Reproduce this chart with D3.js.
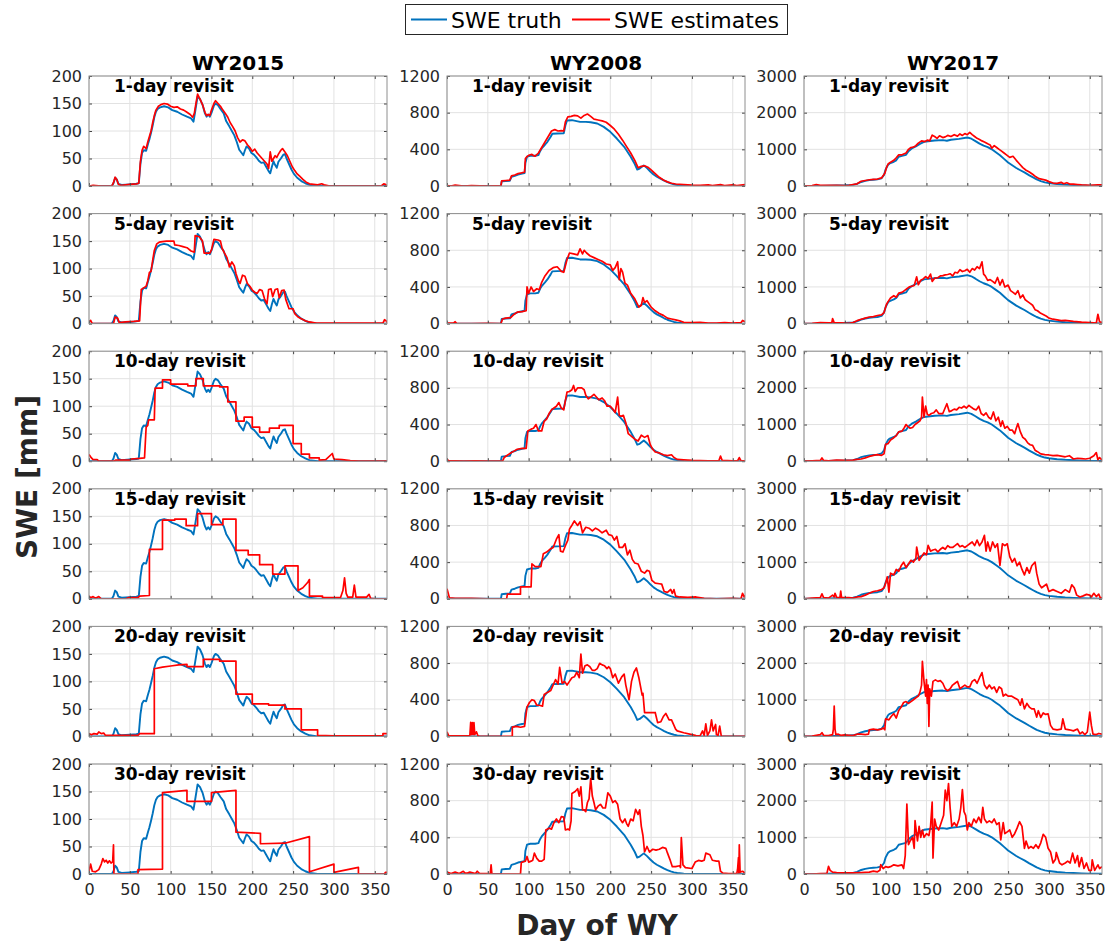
<!DOCTYPE html>
<html>
<head>
<meta charset="utf-8">
<script src="https://cdn.jsdelivr.net/npm/d3@7"></script>
<style>
  html, body { margin: 0; padding: 0; background: #fff; }
  svg { display: block; font-family: "DejaVu Sans", sans-serif; }
</style>
</head>
<body>
<svg id="chart" width="1109" height="944"></svg>
<script>
// ---- Data: SWE [mm] by day of water year, as [day, value] pairs ----
const waterYears = ["WY2015", "WY2008", "WY2017"];
const revisitLabels = ["1-day revisit", "5-day revisit", "10-day revisit", "15-day revisit", "20-day revisit", "30-day revisit"];
const dayTicks = [0, 50, 100, 150, 200, 250, 300, 350];
const yTicks2015 = [0, 50, 100, 150, 200];
const yTicks2008 = [0, 400, 800, 1200];
const yTicks2017 = [0, 1000, 2000, 3000];

const truth2015 = [[0,0],[28,0],[30,5],[32,15],[34,12],[36,4],[40,2],[50,3],[58,4],[61,5],[63,40],[65,60],[67,65],[70,64],[72,75],[74,85],[76,97],[78,110],[80,125],[82,135],[84,140],[87,143],[92,145],[97,143],[102,138],[108,135],[114,130],[120,126],[125,123],[128,117],[130,135],[133,163],[136,158],[139,148],[142,132],[144,126],[146,130],[148,126],[150,133],[153,146],[155,150],[158,147],[161,140],[165,132],[168,118],[172,108],[175,100],[178,92],[181,80],[184,66],[187,60],[189,56],[191,65],[193,72],[196,68],[199,60],[202,57],[205,52],[208,46],[211,42],[214,43],[217,35],[220,27],[222,23],[224,35],[226,45],[228,38],[230,33],[232,44],[235,50],[238,57],[240,58],[242,50],[245,40],[248,30],[251,22],[255,15],[260,9],[265,5],[270,2],[280,0],[365,0]];

const est2015_1 = [[0,0],[5,1],[15,0],[28,0],[30,6],[32,16],[34,12],[36,3],[40,1],[50,3],[58,4],[61,5],[63,45],[65,65],[67,72],[70,68],[72,80],[74,90],[76,100],[78,115],[80,128],[82,138],[85,145],[88,148],[92,150],[96,149],[100,145],[104,143],[108,144],[112,140],[116,138],[120,134],[124,130],[127,125],[129,132],[131,150],[133,167],[136,158],[139,148],[142,134],[144,128],[146,130],[148,128],[150,138],[153,150],[155,155],[158,150],[161,145],[164,138],[167,132],[170,125],[173,115],[176,108],[179,100],[182,88],[185,80],[188,84],[191,82],[194,75],[197,70],[200,63],[203,67],[206,60],[209,55],[212,50],[215,45],[218,40],[220,32],[222,62],[224,45],[226,50],[228,55],[230,52],[232,58],[235,65],[237,68],[240,62],[243,55],[246,45],[249,35],[252,28],[255,22],[258,18],[262,12],[266,7],[270,4],[275,3],[280,2],[285,4],[288,2],[295,0],[358,0],[361,4],[363,3],[365,0]];
const est2015_5 = [[0,3],[2,6],[4,0],[30,0],[32,12],[35,10],[37,2],[45,3],[55,4],[62,5],[64,62],[67,65],[70,68],[72,78],[74,93],[76,95],[78,115],[80,133],[83,145],[86,148],[90,149],[95,150],[100,150],[104,150],[105,143],[110,142],[115,140],[120,138],[125,132],[129,130],[130,160],[135,158],[139,150],[141,128],[145,128],[148,128],[150,134],[153,153],[158,152],[161,150],[163,137],[166,128],[169,120],[172,103],[175,112],[178,105],[180,91],[183,78],[185,73],[188,88],[191,86],[194,73],[197,68],[200,61],[203,57],[206,55],[209,62],[212,60],[215,45],[218,36],[220,62],[223,63],[225,49],[228,62],[231,63],[233,47],[236,60],[239,61],[241,44],[245,27],[250,27],[252,18],[256,12],[260,9],[265,5],[270,3],[278,1],[360,1],[362,7],[364,5],[365,2]];
const est2015_10 = [[0,12],[3,6],[5,3],[10,3],[12,0],[30,0],[33,2],[50,2],[52,4],[62,5],[68,6],[70,62],[72,65],[73,75],[80,75],[81,133],[90,133],[90,148],[100,148],[100,140],[121,140],[121,137],[131,137],[131,150],[140,150],[140,137],[160,137],[160,135],[170,135],[170,108],[180,108],[180,73],[190,73],[190,80],[200,80],[200,62],[209,62],[209,53],[221,53],[221,60],[233,60],[233,65],[250,65],[250,32],[260,32],[260,13],[270,13],[270,6],[282,6],[282,2],[290,3],[298,14],[300,4],[310,3],[320,1],[330,0],[365,0]];
const est2015_15 = [[0,5],[2,2],[5,4],[8,1],[12,4],[15,0],[45,0],[48,2],[60,2],[62,5],[74,6],[74,90],[90,90],[90,143],[105,143],[105,145],[119,145],[119,133],[133,133],[133,155],[150,155],[150,135],[164,135],[164,145],[180,145],[180,88],[195,88],[195,80],[209,80],[209,62],[225,62],[225,45],[240,45],[240,60],[256,60],[256,15],[262,20],[268,30],[270,35],[270,5],[286,5],[286,2],[308,2],[311,15],[313,38],[315,10],[317,3],[323,3],[325,25],[327,3],[340,3],[343,8],[345,1],[350,0],[365,0]];
const est2015_20 = [[0,5],[3,3],[6,5],[10,4],[12,8],[15,5],[18,6],[20,2],[60,2],[62,5],[80,5],[80,123],[90,126],[100,128],[110,130],[120,131],[120,127],[140,127],[140,140],[160,140],[160,137],[180,137],[180,77],[200,77],[200,59],[220,59],[220,57],[240,57],[240,50],[260,50],[260,12],[280,12],[280,2],[300,1],[360,1],[360,5],[365,5]];
const est2015_30 = [[0,5],[2,18],[4,5],[8,4],[12,8],[15,18],[17,28],[19,22],[21,25],[23,20],[25,24],[27,20],[29,22],[30,53],[30.5,0],[60,0],[60,8],[90,9],[90,148],[120,152],[120,132],[150,132],[150,148],[180,152],[180,76],[210,74],[210,55],[240,56],[270,68],[270,4],[300,18],[300,3],[330,12],[330,0],[362,0],[363,3],[365,3]];

const truth2008 = [[0,0],[66,0],[67,50],[72,55],[77,58],[79,100],[83,110],[87,125],[92,135],[95,140],[96,250],[98,320],[102,330],[108,330],[112,337],[114,380],[116,410],[120,450],[123,482],[127,537],[129,570],[135,572],[143,575],[145,660],[147,715],[153,718],[163,700],[170,700],[176,696],[184,682],[192,645],[200,591],[208,518],[217,428],[225,320],[230,240],[233,180],[236,190],[241,225],[245,195],[249,158],[253,125],[257,101],[262,78],[266,58],[270,42],[274,29],[278,18],[282,11],[290,4],[300,0],[365,0]];

const est2008_1 = [[0,5],[5,0],[10,10],[15,5],[20,0],[30,5],[40,2],[50,0],[60,3],[66,0],[67,55],[72,60],[77,65],[79,110],[83,120],[87,135],[92,145],[95,150],[96,300],[98,320],[100,335],[104,345],[106,330],[108,325],[112,360],[116,420],[120,480],[124,540],[128,600],[132,615],[136,600],[140,605],[143,600],[145,700],[148,755],[152,760],[156,770],[160,765],[164,740],[168,770],[172,785],[176,760],[180,730],[185,720],[190,710],[195,695],[200,660],[205,620],[210,565],[215,500],[220,430],[225,360],[230,280],[234,200],[238,215],[242,220],[246,205],[250,175],[255,135],[260,95],[265,65],[270,45],[275,30],[280,22],[290,16],[300,10],[310,6],[320,12],[325,5],[335,15],[340,5],[350,12],[355,5],[360,10],[365,15]];
const est2008_5 = [[0,5],[8,5],[10,20],[12,0],[30,0],[50,3],[66,0],[68,50],[72,60],[78,65],[82,100],[86,125],[92,130],[97,140],[98,400],[100,330],[103,400],[106,350],[110,380],[113,370],[116,450],[120,520],[125,580],[130,610],[135,620],[140,570],[143,560],[147,700],[150,770],[155,760],[160,750],[163,815],[166,760],[168,800],[171,770],[175,740],[180,720],[185,700],[190,680],[195,650],[200,640],[203,580],[206,610],[209,675],[211,480],[213,600],[215,565],[218,440],[221,420],[225,330],[230,270],[235,180],[238,200],[240,284],[242,230],[245,250],[250,180],[255,140],[260,110],[265,90],[270,60],[275,50],[280,40],[285,30],[290,15],[300,10],[310,15],[320,5],[330,5],[340,10],[350,5],[360,10],[362,35],[365,20]];
const est2008_10 = [[0,20],[2,5],[10,5],[20,0],[35,5],[50,0],[68,0],[70,40],[73,60],[78,90],[82,110],[86,130],[92,140],[97,140],[99,330],[103,350],[106,360],[109,400],[112,330],[116,330],[119,435],[122,460],[125,520],[128,560],[131,580],[134,600],[137,640],[140,580],[143,560],[145,660],[147,754],[150,760],[153,780],[155,826],[157,760],[160,800],[165,800],[168,780],[170,720],[173,680],[176,700],[180,730],[183,700],[186,670],[190,690],[193,660],[196,600],[200,600],[203,570],[206,530],[209,700],[211,500],[213,490],[216,500],[219,420],[222,300],[226,270],[230,240],[234,220],[238,283],[242,260],[246,280],[249,180],[252,130],[255,100],[260,90],[265,70],[270,60],[275,70],[278,40],[282,20],[290,15],[300,10],[320,5],[333,5],[335,55],[337,10],[350,5],[356,5],[358,40],[360,5],[365,5]];
const est2008_15 = [[0,110],[3,10],[10,5],[30,5],[50,0],[73,0],[74,50],[90,50],[90,130],[103,130],[104,380],[108,350],[115,350],[118,492],[122,510],[126,540],[130,560],[134,650],[137,700],[139,520],[142,510],[146,600],[148,640],[150,760],[153,802],[156,850],[160,800],[163,840],[166,720],[170,780],[174,770],[178,740],[182,770],[186,750],[190,720],[195,748],[198,700],[202,690],[205,640],[208,680],[211,560],[215,560],[218,600],[221,480],[224,530],[227,430],[230,390],[234,380],[238,300],[242,280],[245,310],[248,300],[251,200],[255,170],[260,164],[263,160],[266,80],[270,70],[274,102],[276,60],[278,100],[280,30],[285,20],[295,15],[305,20],[315,5],[330,0],[350,5],[360,0],[362,60],[364,20],[365,40]];
const est2008_20 = [[0,50],[2,10],[5,5],[25,5],[28,10],[29,152],[30,20],[31,150],[32,20],[33,150],[34,20],[36,50],[38,5],[40,0],[80,0],[80,101],[85,110],[90,100],[95,110],[98,319],[101,370],[104,400],[107,390],[110,340],[113,340],[117,330],[119,457],[123,480],[127,500],[130,560],[133,620],[136,570],[138,754],[141,580],[144,600],[147,560],[150,600],[153,640],[156,650],[159,700],[162,640],[164,899],[166,690],[169,770],[172,780],[175,760],[178,720],[181,720],[184,740],[187,797],[190,780],[193,770],[196,740],[198,760],[200,740],[203,640],[206,680],[210,580],[214,650],[217,680],[219,560],[221,480],[223,400],[226,600],[229,700],[232,747],[235,640],[238,500],[239,450],[240,470],[242,260],[245,260],[255,261],[258,150],[262,160],[265,217],[268,250],[272,180],[275,180],[278,120],[280,80],[282,60],[290,40],[300,20],[305,10],[310,5],[313,60],[315,10],[317,137],[319,10],[322,60],[324,181],[326,60],[329,130],[330,20],[332,10],[334,112],[336,0],[364,0],[365,10]];
const est2008_30 = [[0,20],[5,5],[10,20],[15,5],[20,30],[22,10],[25,10],[28,20],[35,5],[37,30],[40,5],[50,5],[53,0],[54,101],[55,0],[90,0],[91,126],[96,140],[98,191],[100,130],[103,140],[105,150],[107,228],[110,170],[113,140],[116,140],[119,160],[121,480],[125,500],[128,490],[131,560],[134,600],[137,560],[140,625],[143,620],[145,480],[148,490],[150,480],[152,580],[153,878],[157,900],[160,930],[162,850],[164,950],[166,700],[168,700],[170,680],[172,780],[174,820],[176,1041],[178,850],[180,780],[182,700],[185,740],[188,760],[191,720],[194,720],[197,885],[200,850],[203,780],[206,800],[209,760],[212,600],[215,560],[218,600],[220,550],[222,520],[225,600],[228,580],[231,705],[234,650],[236,700],[238,520],[240,420],[242,240],[245,300],[248,240],[252,270],[256,260],[260,270],[264,290],[268,280],[270,230],[273,160],[276,80],[280,80],[285,90],[286,70],[287,397],[289,100],[292,70],[300,60],[304,130],[308,148],[312,140],[315,150],[317,228],[322,210],[325,150],[330,140],[333,140],[335,30],[338,10],[345,5],[355,5],[356,60],[357,180],[357.5,10],[358,318],[359,20],[362,30],[365,10]];

const truth2017 = [[0,0],[20,0],[30,10],[50,20],[60,30],[65,60],[70,110],[75,140],[80,160],[85,170],[90,180],[95,210],[98,300],[100,453],[103,580],[105,616],[110,660],[113,700],[116,798],[120,820],[125,850],[128,950],[132,1024],[137,1080],[142,1150],[147,1206],[152,1220],[160,1240],[170,1250],[175,1235],[180,1260],[190,1285],[200,1323],[205,1290],[210,1225],[215,1155],[220,1100],[225,1060],[230,1000],[235,920],[240,840],[245,740],[250,640],[255,565],[260,490],[265,430],[270,370],[276,290],[280,240],[285,180],[290,135],[295,100],[300,80],[310,55],[320,38],[330,26],[340,16],[350,10],[365,5]];

const est2017_1 = [[0,0],[10,10],[15,40],[20,20],[30,20],[40,20],[50,10],[55,20],[60,40],[65,60],[70,130],[75,150],[80,170],[85,180],[90,190],[95,220],[99,350],[101,500],[103,600],[106,650],[110,700],[113,770],[116,850],[120,850],[125,900],[128,1000],[131,1050],[134,1060],[137,1100],[140,1170],[144,1230],[148,1210],[151,1250],[154,1230],[157,1387],[160,1350],[163,1300],[166,1370],[170,1320],[173,1340],[176,1380],[180,1350],[184,1400],[188,1360],[191,1420],[194,1380],[197,1430],[200,1400],[203,1460],[206,1400],[209,1350],[212,1300],[215,1270],[218,1230],[221,1200],[225,1150],[228,1120],[230,1030],[233,1100],[236,1050],[239,1000],[242,950],[245,900],[248,850],[252,780],[256,810],[260,700],[264,600],[268,500],[272,430],[276,380],[280,320],[284,250],[288,200],[292,180],[296,160],[300,120],[305,80],[310,70],[315,100],[318,60],[322,90],[326,50],[330,50],[335,40],[340,30],[350,20],[360,30],[365,30]];
const est2017_5 = [[0,0],[10,10],[20,30],[30,20],[34,20],[35,137],[37,20],[45,20],[55,10],[60,30],[65,80],[70,120],[75,150],[80,180],[85,190],[90,220],[95,240],[98,300],[101,520],[103,600],[106,700],[110,760],[113,720],[116,830],[120,850],[123,900],[126,950],[129,1000],[132,1020],[135,1040],[138,1276],[140,1060],[143,1180],[146,1220],[149,1280],[152,1230],[155,1350],[157,1150],[160,1240],[164,1250],[167,1300],[170,1310],[173,1330],[176,1340],[179,1360],[182,1300],[185,1400],[188,1380],[191,1470],[194,1420],[197,1440],[200,1480],[203,1400],[206,1500],[209,1460],[212,1550],[215,1500],[218,1686],[220,1350],[222,1300],[225,1180],[228,1200],[231,1150],[234,1100],[237,1258],[240,1050],[243,1200],[246,1000],[250,1050],[253,900],[256,850],[259,800],[262,900],[265,700],[268,780],[271,650],[274,600],[277,550],[280,500],[283,380],[286,350],[290,280],[293,250],[297,200],[300,150],[305,120],[310,100],[315,80],[320,90],[330,60],[340,40],[350,30],[355,20],[358,10],[360,255],[362,50],[365,30]];
const est2017_10 = [[0,0],[10,10],[20,20],[22,90],[24,20],[30,10],[40,30],[50,20],[60,30],[65,50],[70,60],[75,90],[80,130],[85,160],[90,180],[95,160],[98,200],[100,462],[103,480],[106,580],[110,640],[113,700],[116,800],[120,820],[123,920],[125,1000],[127,950],[130,900],[133,920],[136,1000],[139,1050],[142,1100],[144,1200],[145,1750],[147,1200],[149,1500],[151,1280],[153,1250],[156,1300],[159,1320],[162,1400],[165,1300],[170,1300],[175,1568],[178,1350],[181,1380],[184,1420],[187,1400],[190,1470],[193,1450],[196,1500],[199,1450],[202,1523],[205,1470],[208,1420],[211,1400],[214,1500],[217,1300],[220,1250],[223,1320],[226,1200],[229,1150],[232,1342],[235,1100],[238,1200],[241,950],[243,1100],[246,900],[249,950],[252,850],[255,850],[258,750],[260,900],[262,1025],[265,800],[268,650],[271,600],[274,500],[277,450],[280,430],[283,300],[286,260],[290,200],[295,180],[300,170],[305,150],[310,160],[315,140],[320,120],[325,150],[330,60],[335,80],[340,70],[345,60],[350,80],[355,150],[358,236],[360,40],[362,100],[365,30]];
const est2017_15 = [[0,0],[10,20],[20,30],[22,137],[24,30],[30,20],[35,100],[37,50],[38,150],[40,40],[44,30],[45,210],[46,30],[55,30],[60,20],[65,50],[70,60],[75,100],[80,150],[85,200],[90,220],[95,250],[98,300],[100,420],[102,600],[104,180],[106,700],[110,650],[113,800],[116,750],[119,900],[122,1000],[125,850],[128,950],[131,1050],[134,1000],[137,1100],[138,1413],[141,1050],[144,1150],[147,1250],[150,1200],[152,1459],[155,1300],[158,1330],[161,1350],[164,1280],[167,1350],[170,1400],[173,1350],[176,1450],[179,1400],[182,1400],[185,1450],[188,1504],[191,1420],[194,1450],[197,1400],[200,1450],[203,1500],[206,1550],[209,1450],[212,1600],[215,1450],[218,1550],[221,1732],[223,1300],[225,1550],[228,1300],[231,1550],[234,1400],[237,1500],[240,911],[243,1500],[246,1450],[249,1500],[252,1150],[255,1000],[258,1100],[261,900],[264,1000],[267,800],[270,650],[273,850],[276,700],[279,900],[283,1002],[285,700],[288,400],[291,300],[294,350],[297,400],[300,200],[305,250],[310,200],[315,150],[320,250],[325,180],[328,383],[331,300],[334,100],[338,50],[342,80],[346,120],[350,100],[352,50],[355,150],[358,60],[361,130],[363,20],[365,30]];
const est2017_20 = [[0,0],[10,10],[20,50],[22,100],[24,30],[30,20],[35,50],[36,200],[37,825],[38,200],[39,50],[42,60],[45,30],[50,40],[55,30],[60,20],[65,60],[70,60],[75,50],[79,60],[80,181],[85,200],[90,180],[95,200],[97,230],[99,180],[100,480],[104,450],[107,550],[110,620],[113,500],[116,707],[119,800],[122,925],[125,950],[128,900],[131,950],[134,1000],[137,1050],[140,1100],[142,1200],[144,1400],[145,2049],[147,1500],[149,1100],[150,1550],[151,900],[152,1400],[153,272],[154,1300],[156,1100],[158,1500],[161,1541],[164,1500],[167,1520],[170,1450],[173,1300],[176,1250],[179,1300],[182,1400],[185,1450],[188,1500],[191,1300],[194,1350],[197,1400],[200,1350],[203,1350],[206,1500],[209,1550],[212,1450],[215,1600],[218,1741],[221,1400],[224,1300],[227,1400],[230,1300],[233,1350],[236,1200],[239,1350],[242,1300],[244,1100],[247,1150],[250,1100],[254,1100],[258,1050],[262,1000],[265,850],[267,1025],[270,750],[273,900],[276,800],[279,750],[282,750],[285,526],[287,700],[290,520],[293,640],[296,600],[299,616],[302,300],[305,200],[310,180],[315,200],[317,480],[320,200],[325,180],[330,150],[335,200],[338,70],[341,120],[344,50],[347,120],[350,661],[352,300],[354,60],[358,50],[361,80],[365,60]];
const est2017_30 = [[0,0],[10,0],[20,10],[28,10],[30,208],[32,100],[35,50],[40,40],[50,30],[60,30],[70,40],[80,50],[85,80],[90,60],[93,100],[94,253],[97,150],[100,200],[103,180],[106,200],[110,250],[115,220],[120,250],[122,150],[124,500],[126,1906],[128,800],[130,900],[133,1000],[135,700],[136,1454],[139,900],[141,1300],[143,1000],[145,1200],[147,1000],[150,1100],[153,1050],[155,1300],[157,1960],[158,434],[160,1500],[162,1300],[165,1200],[168,1400],[171,1600],[173,2285],[175,2000],[177,2466],[179,1800],[181,1300],[184,1400],[187,1300],[190,1500],[192,1800],[194,2300],[196,1700],[198,1600],[200,1200],[202,1400],[205,1300],[208,1500],[211,1400],[214,1550],[217,1400],[219,1816],[221,1500],[224,1400],[227,1450],[230,1400],[233,1500],[236,1350],[239,1400],[241,930],[244,1400],[246,1100],[249,1150],[252,1200],[255,1000],[258,1100],[261,1250],[264,1427],[267,1300],[270,700],[272,900],[275,700],[278,750],[281,700],[284,800],[287,700],[290,850],[293,1084],[296,1000],[299,700],[302,600],[305,300],[308,400],[309,587],[313,300],[316,250],[320,300],[323,350],[326,300],[329,569],[332,300],[335,500],[337,200],[340,450],[343,150],[346,300],[349,100],[352,100],[353,388],[356,100],[360,250],[362,150],[365,200]];

// ---- Layout ----
const svg = d3.select("#chart");
const colLeft = [89, 447, 804];
const rowTop0 = 76, rowStep = 137.6;
const plotW = 298, plotH = 110;

const columns = [
  { title: waterYears[0], yMax: 200,  yTicks: yTicks2015, truth: truth2015, est: [est2015_1, est2015_5, est2015_10, est2015_15, est2015_20, est2015_30] },
  { title: waterYears[1], yMax: 1200, yTicks: yTicks2008, truth: truth2008, est: [est2008_1, est2008_5, est2008_10, est2008_15, est2008_20, est2008_30] },
  { title: waterYears[2], yMax: 3000, yTicks: yTicks2017, truth: truth2017, est: [est2017_1, est2017_5, est2017_10, est2017_15, est2017_20, est2017_30] }
];

const blue = "#0072BD", red = "#FF0000";
const x = d3.scaleLinear().domain([0, 365]).range([0, plotW]);
const intFmt = d3.format("d");

svg.append("defs").append("clipPath").attr("id", "plotClip")
  .append("rect").attr("x", 0).attr("y", 0).attr("width", plotW).attr("height", plotH);

columns.forEach((col, c) => {
  const y = d3.scaleLinear().domain([0, col.yMax]).range([plotH, 0]);
  const line = d3.line().x(d => x(d[0])).y(d => y(d[1]));

  svg.append("text")
    .attr("x", colLeft[c] + plotW / 2).attr("y", 70)
    .attr("text-anchor", "middle")
    .style("font-size", "20px").style("font-weight", "bold").attr("fill", "#000")
    .text(col.title);

  col.est.forEach((est, r) => {
    const g = svg.append("g").attr("transform", `translate(${colLeft[c]},${rowTop0 + r * rowStep})`);

    g.append("rect").attr("width", plotW).attr("height", plotH).attr("fill", "#fff");

    // grid
    g.append("g").selectAll("line").data(dayTicks).join("line")
      .attr("x1", d => x(d)).attr("x2", d => x(d)).attr("y1", 0).attr("y2", plotH)
      .attr("stroke", "#e2e2e2").attr("stroke-width", 1);
    g.append("g").selectAll("line").data(col.yTicks).join("line")
      .attr("x1", 0).attr("x2", plotW).attr("y1", d => y(d)).attr("y2", d => y(d))
      .attr("stroke", "#e2e2e2").attr("stroke-width", 1);

    // series
    const lines = g.append("g").attr("clip-path", "url(#plotClip)");
    lines.append("path").datum(col.truth).attr("d", line)
      .attr("fill", "none").attr("stroke", blue).attr("stroke-width", 1.9).attr("stroke-linejoin", "round");
    lines.append("path").datum(est).attr("d", line)
      .attr("fill", "none").attr("stroke", red).attr("stroke-width", 1.7).attr("stroke-linejoin", "round");

    // axes with inward ticks on every side
    const yl = g.append("g").call(d3.axisLeft(y).tickValues(col.yTicks).tickSizeInner(-3).tickSizeOuter(0).tickPadding(7).tickFormat(intFmt));
    const yr = g.append("g").attr("transform", `translate(${plotW},0)`)
      .call(d3.axisRight(y).tickValues(col.yTicks).tickSizeInner(-3).tickSizeOuter(0).tickFormat(""));
    const xb = g.append("g").attr("transform", `translate(0,${plotH})`)
      .call(d3.axisBottom(x).tickValues(dayTicks).tickSizeInner(-3).tickSizeOuter(0).tickPadding(10)
        .tickFormat(r === 5 ? intFmt : ""));
    const xt = g.append("g")
      .call(d3.axisTop(x).tickValues(dayTicks).tickSizeInner(-3).tickSizeOuter(0).tickFormat(""));
    [yl, yr, xb, xt].forEach(a => {
      a.select(".domain").remove();
      a.selectAll(".tick line").attr("stroke", "#444");
      a.selectAll("text").style("font-size", "16px").attr("fill", "#262626")
        .style("font-family", "'DejaVu Sans', sans-serif");
    });

    g.append("rect").attr("width", plotW).attr("height", plotH)
      .attr("fill", "none").attr("stroke", "#8e8e8e").attr("stroke-width", 1);

    g.append("text").attr("x", 25).attr("y", 16)
      .style("font-size", "17px").style("font-weight", "bold").attr("fill", "#000")
      .text(revisitLabels[r]);
  });
});

// axis titles
svg.append("text")
  .attr("transform", "translate(27,477) rotate(-90)")
  .attr("text-anchor", "middle").attr("dominant-baseline", "central")
  .style("font-size", "28px").style("font-weight", "bold").attr("fill", "#262626")
  .text("SWE [mm]");
svg.append("text")
  .attr("x", 597).attr("y", 935).attr("text-anchor", "middle")
  .style("font-size", "28px").style("font-weight", "bold").attr("fill", "#262626")
  .text("Day of WY");

// legend
const legend = svg.append("g");
legend.append("rect").attr("x", 405.5).attr("y", 4.5).attr("width", 382).attr("height", 30)
  .attr("fill", "#fff").attr("stroke", "#262626").attr("stroke-width", 1);
const legendItems = [
  { label: "SWE truth", color: blue, x0: 411, x1: 447 },
  { label: "SWE estimates", color: red, x0: 572, x1: 610 }
];
legendItems.forEach(it => {
  legend.append("line").attr("x1", it.x0).attr("x2", it.x1).attr("y1", 19.5).attr("y2", 19.5)
    .attr("stroke", it.color).attr("stroke-width", 2);
  legend.append("text").attr("x", it.x1 + 4).attr("y", 27.5)
    .style("font-size", "22px").attr("fill", "#000").text(it.label);
});
</script>
</body>
</html>
